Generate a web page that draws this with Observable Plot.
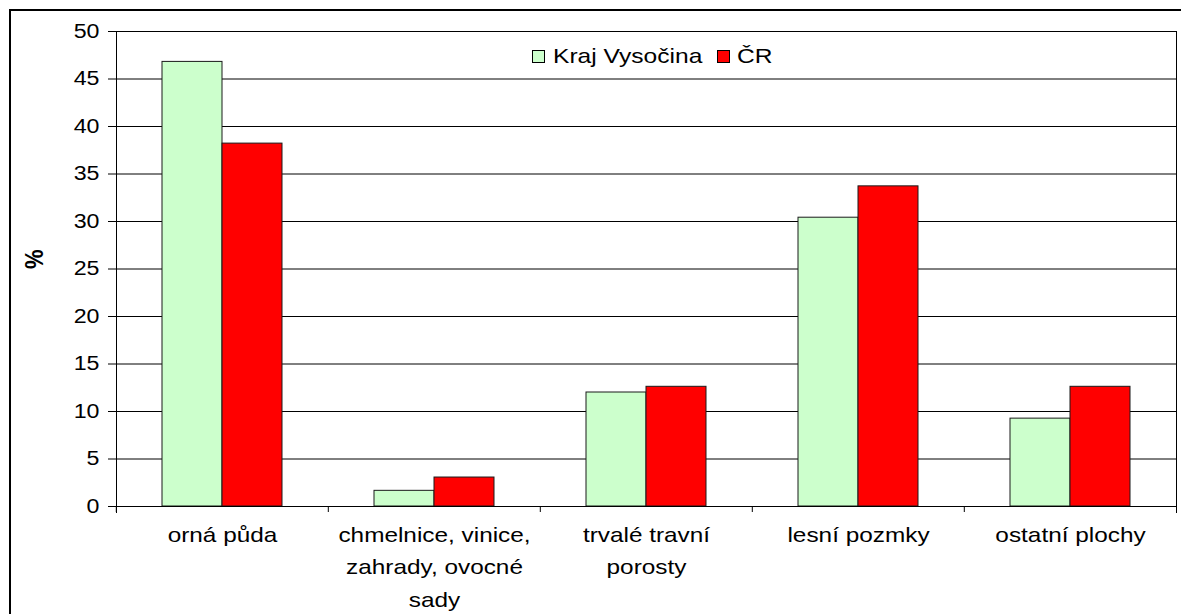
<!DOCTYPE html>
<html><head><meta charset="utf-8">
<script src="https://cdn.jsdelivr.net/npm/d3@7"></script>
<script src="https://cdn.jsdelivr.net/npm/@observablehq/plot@0.6"></script>
<style>
html,body{margin:0;padding:0;background:#fff;overflow:hidden;}
#wrap{position:relative;width:1181px;height:614px;overflow:hidden;font-family:"Liberation Sans",Arial,sans-serif;background:#fff;}
#chart{position:absolute;left:0;top:0;}
#border{position:absolute;left:9px;top:9px;width:1300px;height:800px;border:2px solid #000;pointer-events:none;}
.sw{position:absolute;box-sizing:border-box;width:13px;height:13px;border:1px solid #000;}
.lt{position:absolute;font-size:21px;line-height:21px;color:#000;transform:scaleX(1.17);transform-origin:left center;white-space:nowrap;}
</style></head><body>
<div id="wrap"><div id="chart"></div><div id="border"></div><div id="legend"></div></div>
<script>
// ---- data ----
const categories = ["orná půda", "chmelnice, vinice,\nzahrady, ovocné\nsady", "trvalé travní\nporosty", "lesní pozmky", "ostatní plochy"];
const seriesNames = ["Kraj Vysočina", "ČR"];
const krajVysocina = [46.8, 1.65, 12.0, 30.4, 9.25];
const cr = [38.2, 3.05, 12.6, 33.7, 12.6];
const yTicks = [0, 5, 10, 15, 20, 25, 30, 35, 40, 45, 50];
const seriesColors = ["#ccffcc", "#ff0000"];
const yLabel = "%";

const data = categories.flatMap((c, i) => [
  {cat: c, series: seriesNames[0], value: krajVysocina[i]},
  {cat: c, series: seriesNames[1], value: cr[i]}
]);

const W = 1181, H = 614, ML = 115, MR = 4, MT = 31, MB = 108;
const halfBand = (W - ML - MR) / categories.length / 2;

const chart = Plot.plot({
  width: W, height: H,
  marginLeft: ML, marginRight: MR, marginTop: MT, marginBottom: MB,
  style: {fontFamily: "'Liberation Sans', Arial, sans-serif", color: "#000", background: "transparent", overflow: "visible"},
  fx: {domain: categories, padding: 0, label: null},
  x: {domain: seriesNames, paddingInner: 0, paddingOuter: 0.74, axis: null},
  y: {domain: [0, 50], label: null},
  color: {domain: seriesNames, range: seriesColors},
  marks: [
    Plot.gridY(yTicks, {stroke: "#000", strokeOpacity: 1}),
    Plot.barY(data, {fx: "cat", x: "series", y: "value", fill: "series", stroke: "#1a1a1a", strokeWidth: 1}),
    Plot.ruleY([0], {stroke: "#000"}),
    Plot.frame({anchor: "left", facetAnchor: "left", insetBottom: -6, stroke: "#000"}),
    Plot.frame({anchor: "right", facetAnchor: "right", insetBottom: -6, stroke: "#000"}),
    Plot.axisY(yTicks, {tickSize: 8, tickPadding: 9, fontSize: 20, label: null, stroke: "#000"}),
    Plot.axisFx({anchor: "bottom", tickSize: 0, tickPadding: 12, fontSize: 21, lineHeight: 1.55, label: null}),
    Plot.axisFx({anchor: "bottom", tickSize: 6, tickFormat: () => "", dx: -halfBand, label: null, stroke: "#000"}),
    Plot.text([yLabel], {text: d => d, frameAnchor: "left", facetAnchor: "left", dx: -82, rotate: -90, fontSize: 22, fontWeight: "bold"})
  ]
});
document.getElementById("chart").appendChild(chart);

// widen text horizontally like the stretched original
const svg = chart.tagName.toLowerCase() === "svg" ? chart : chart.querySelector("svg");
svg.querySelectorAll("text").forEach(t => {
  const tr = t.getAttribute("transform") || "";
  let pre = tr;
  const xa = t.getAttribute("x");
  if (xa !== null && !isNaN(+xa) && +xa !== 0) { pre += ` translate(${+xa},0)`; t.setAttribute("x", 0); }
  const lbl = (t.parentNode.getAttribute("aria-label") || "");
  if (tr.includes("rotate")) t.setAttribute("transform", pre + " scale(1,1.2)");
  else t.setAttribute("transform", pre + ` scale(${lbl.includes("y-axis") ? 1.22 : 1.16},1)`);
});

// legend inside the plot area
const legendLayout = [{sw: 532, tx: 553}, {sw: 717, tx: 737}];
const legend = document.getElementById("legend");
seriesNames.forEach((name, i) => {
  const s = document.createElement("div");
  s.className = "sw";
  s.style.left = legendLayout[i].sw + "px";
  s.style.top = "50px";
  s.style.background = seriesColors[i];
  legend.appendChild(s);
  const t = document.createElement("div");
  t.className = "lt";
  t.style.left = legendLayout[i].tx + "px";
  t.style.top = "45px";
  t.textContent = name;
  legend.appendChild(t);
});
</script>
</body></html>
